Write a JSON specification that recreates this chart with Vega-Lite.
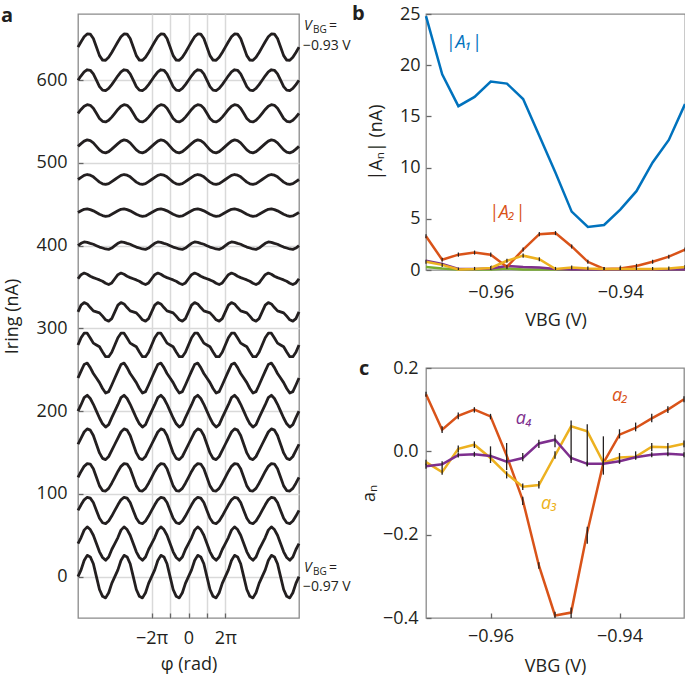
{
"$schema": "https://vega.github.io/schema/vega-lite/v6.json",
"background": "white",
"padding": {"left": 0, "top": 3, "right": 0, "bottom": 0},
"config": {
  "font": "Open Sans",
  "view": {"stroke": "#8a8a8a", "strokeWidth": 1.3},
  "axis": {"labelFont": "Open Sans", "titleFont": "Open Sans", "labelFontSize": 18, "titleFontSize": 18, "titleFontWeight": "normal", "labelColor": "#231f20", "titleColor": "#231f20", "domain": false, "tickSize": -5, "tickColor": "#666666", "tickWidth": 1.3, "grid": false, "labelFlush": false, "labelOverlap": false},
  "title": {"font": "Open Sans", "fontSize": 20, "fontWeight": "bold", "anchor": "start", "frame": "group", "color": "#231f20"}
},
"datasets": {
"traces": [
{"k":0,"x":-36,"y":0},{"k":0,"x":-35,"y":8.1},{"k":0,"x":-34,"y":19.5},{"k":0,"x":-33,"y":25.7},{"k":0,"x":-32,"y":23.8},{"k":0,"x":-31,"y":15.6},{"k":0,"x":-30,"y":0},{"k":0,"x":-29,"y":-15.6},{"k":0,"x":-28,"y":-23.8},{"k":0,"x":-27,"y":-25.7},{"k":0,"x":-26,"y":-19.5},{"k":0,"x":-25,"y":-8.1},
{"k":0,"x":-24,"y":0},{"k":0,"x":-23,"y":8.1},{"k":0,"x":-22,"y":19.5},{"k":0,"x":-21,"y":25.7},{"k":0,"x":-20,"y":23.8},{"k":0,"x":-19,"y":15.6},{"k":0,"x":-18,"y":0},{"k":0,"x":-17,"y":-15.6},{"k":0,"x":-16,"y":-23.8},{"k":0,"x":-15,"y":-25.7},{"k":0,"x":-14,"y":-19.5},{"k":0,"x":-13,"y":-8.1},
{"k":0,"x":-12,"y":0},{"k":0,"x":-11,"y":8.1},{"k":0,"x":-10,"y":19.5},{"k":0,"x":-9,"y":25.7},{"k":0,"x":-8,"y":23.8},{"k":0,"x":-7,"y":15.6},{"k":0,"x":-6,"y":0},{"k":0,"x":-5,"y":-15.6},{"k":0,"x":-4,"y":-23.8},{"k":0,"x":-3,"y":-25.7},{"k":0,"x":-2,"y":-19.5},{"k":0,"x":-1,"y":-8.1},
{"k":0,"x":0,"y":0},{"k":0,"x":1,"y":8.1},{"k":0,"x":2,"y":19.5},{"k":0,"x":3,"y":25.7},{"k":0,"x":4,"y":23.8},{"k":0,"x":5,"y":15.6},{"k":0,"x":6,"y":0},{"k":0,"x":7,"y":-15.6},{"k":0,"x":8,"y":-23.8},{"k":0,"x":9,"y":-25.7},{"k":0,"x":10,"y":-19.5},{"k":0,"x":11,"y":-8.1},
{"k":0,"x":12,"y":0},{"k":0,"x":13,"y":8.1},{"k":0,"x":14,"y":19.5},{"k":0,"x":15,"y":25.7},{"k":0,"x":16,"y":23.8},{"k":0,"x":17,"y":15.6},{"k":0,"x":18,"y":0},{"k":0,"x":19,"y":-15.6},{"k":0,"x":20,"y":-23.8},{"k":0,"x":21,"y":-25.7},{"k":0,"x":22,"y":-19.5},{"k":0,"x":23,"y":-8.1},
{"k":0,"x":24,"y":0},{"k":0,"x":25,"y":8.1},{"k":0,"x":26,"y":19.5},{"k":0,"x":27,"y":25.7},{"k":0,"x":28,"y":23.8},{"k":0,"x":29,"y":15.6},{"k":0,"x":30,"y":0},{"k":0,"x":31,"y":-15.6},{"k":0,"x":32,"y":-23.8},{"k":0,"x":33,"y":-25.7},{"k":0,"x":34,"y":-19.5},{"k":0,"x":35,"y":-8.1},{"k":0,"x":36,"y":0},
{"k":1,"x":-36,"y":40},{"k":1,"x":-35,"y":47.2},{"k":1,"x":-34,"y":56.2},{"k":1,"x":-33,"y":60.1},{"k":1,"x":-32,"y":56.9},{"k":1,"x":-31,"y":50},{"k":1,"x":-30,"y":40},{"k":1,"x":-29,"y":30},{"k":1,"x":-28,"y":23.1},{"k":1,"x":-27,"y":19.9},{"k":1,"x":-26,"y":23.8},{"k":1,"x":-25,"y":32.8},
{"k":1,"x":-24,"y":40},{"k":1,"x":-23,"y":47.2},{"k":1,"x":-22,"y":56.2},{"k":1,"x":-21,"y":60.1},{"k":1,"x":-20,"y":56.9},{"k":1,"x":-19,"y":50},{"k":1,"x":-18,"y":40},{"k":1,"x":-17,"y":30},{"k":1,"x":-16,"y":23.1},{"k":1,"x":-15,"y":19.9},{"k":1,"x":-14,"y":23.8},{"k":1,"x":-13,"y":32.8},
{"k":1,"x":-12,"y":40},{"k":1,"x":-11,"y":47.2},{"k":1,"x":-10,"y":56.2},{"k":1,"x":-9,"y":60.1},{"k":1,"x":-8,"y":56.9},{"k":1,"x":-7,"y":50},{"k":1,"x":-6,"y":40},{"k":1,"x":-5,"y":30},{"k":1,"x":-4,"y":23.1},{"k":1,"x":-3,"y":19.9},{"k":1,"x":-2,"y":23.8},{"k":1,"x":-1,"y":32.8},
{"k":1,"x":0,"y":40},{"k":1,"x":1,"y":47.2},{"k":1,"x":2,"y":56.2},{"k":1,"x":3,"y":60.1},{"k":1,"x":4,"y":56.9},{"k":1,"x":5,"y":50},{"k":1,"x":6,"y":40},{"k":1,"x":7,"y":30},{"k":1,"x":8,"y":23.1},{"k":1,"x":9,"y":19.9},{"k":1,"x":10,"y":23.8},{"k":1,"x":11,"y":32.8},
{"k":1,"x":12,"y":40},{"k":1,"x":13,"y":47.2},{"k":1,"x":14,"y":56.2},{"k":1,"x":15,"y":60.1},{"k":1,"x":16,"y":56.9},{"k":1,"x":17,"y":50},{"k":1,"x":18,"y":40},{"k":1,"x":19,"y":30},{"k":1,"x":20,"y":23.1},{"k":1,"x":21,"y":19.9},{"k":1,"x":22,"y":23.8},{"k":1,"x":23,"y":32.8},
{"k":1,"x":24,"y":40},{"k":1,"x":25,"y":47.2},{"k":1,"x":26,"y":56.2},{"k":1,"x":27,"y":60.1},{"k":1,"x":28,"y":56.9},{"k":1,"x":29,"y":50},{"k":1,"x":30,"y":40},{"k":1,"x":31,"y":30},{"k":1,"x":32,"y":23.1},{"k":1,"x":33,"y":19.9},{"k":1,"x":34,"y":23.8},{"k":1,"x":35,"y":32.8},{"k":1,"x":36,"y":40},
{"k":2,"x":-36,"y":80},{"k":2,"x":-35,"y":86.8},{"k":2,"x":-34,"y":92.8},{"k":2,"x":-33,"y":95.9},{"k":2,"x":-32,"y":94.9},{"k":2,"x":-31,"y":89.5},{"k":2,"x":-30,"y":80},{"k":2,"x":-29,"y":70.5},{"k":2,"x":-28,"y":65.1},{"k":2,"x":-27,"y":64.1},{"k":2,"x":-26,"y":67.2},{"k":2,"x":-25,"y":73.2},
{"k":2,"x":-24,"y":80},{"k":2,"x":-23,"y":86.8},{"k":2,"x":-22,"y":92.8},{"k":2,"x":-21,"y":95.9},{"k":2,"x":-20,"y":94.9},{"k":2,"x":-19,"y":89.5},{"k":2,"x":-18,"y":80},{"k":2,"x":-17,"y":70.5},{"k":2,"x":-16,"y":65.1},{"k":2,"x":-15,"y":64.1},{"k":2,"x":-14,"y":67.2},{"k":2,"x":-13,"y":73.2},
{"k":2,"x":-12,"y":80},{"k":2,"x":-11,"y":86.8},{"k":2,"x":-10,"y":92.8},{"k":2,"x":-9,"y":95.9},{"k":2,"x":-8,"y":94.9},{"k":2,"x":-7,"y":89.5},{"k":2,"x":-6,"y":80},{"k":2,"x":-5,"y":70.5},{"k":2,"x":-4,"y":65.1},{"k":2,"x":-3,"y":64.1},{"k":2,"x":-2,"y":67.2},{"k":2,"x":-1,"y":73.2},
{"k":2,"x":0,"y":80},{"k":2,"x":1,"y":86.8},{"k":2,"x":2,"y":92.8},{"k":2,"x":3,"y":95.9},{"k":2,"x":4,"y":94.9},{"k":2,"x":5,"y":89.5},{"k":2,"x":6,"y":80},{"k":2,"x":7,"y":70.5},{"k":2,"x":8,"y":65.1},{"k":2,"x":9,"y":64.1},{"k":2,"x":10,"y":67.2},{"k":2,"x":11,"y":73.2},
{"k":2,"x":12,"y":80},{"k":2,"x":13,"y":86.8},{"k":2,"x":14,"y":92.8},{"k":2,"x":15,"y":95.9},{"k":2,"x":16,"y":94.9},{"k":2,"x":17,"y":89.5},{"k":2,"x":18,"y":80},{"k":2,"x":19,"y":70.5},{"k":2,"x":20,"y":65.1},{"k":2,"x":21,"y":64.1},{"k":2,"x":22,"y":67.2},{"k":2,"x":23,"y":73.2},
{"k":2,"x":24,"y":80},{"k":2,"x":25,"y":86.8},{"k":2,"x":26,"y":92.8},{"k":2,"x":27,"y":95.9},{"k":2,"x":28,"y":94.9},{"k":2,"x":29,"y":89.5},{"k":2,"x":30,"y":80},{"k":2,"x":31,"y":70.5},{"k":2,"x":32,"y":65.1},{"k":2,"x":33,"y":64.1},{"k":2,"x":34,"y":67.2},{"k":2,"x":35,"y":73.2},{"k":2,"x":36,"y":80},
{"k":3,"x":-36,"y":120},{"k":3,"x":-35,"y":127.1},{"k":3,"x":-34,"y":133.3},{"k":3,"x":-33,"y":136.6},{"k":3,"x":-32,"y":136},{"k":3,"x":-31,"y":130.3},{"k":3,"x":-30,"y":120},{"k":3,"x":-29,"y":109.7},{"k":3,"x":-28,"y":104},{"k":3,"x":-27,"y":103.4},{"k":3,"x":-26,"y":106.7},{"k":3,"x":-25,"y":112.9},
{"k":3,"x":-24,"y":120},{"k":3,"x":-23,"y":127.1},{"k":3,"x":-22,"y":133.3},{"k":3,"x":-21,"y":136.6},{"k":3,"x":-20,"y":136},{"k":3,"x":-19,"y":130.3},{"k":3,"x":-18,"y":120},{"k":3,"x":-17,"y":109.7},{"k":3,"x":-16,"y":104},{"k":3,"x":-15,"y":103.4},{"k":3,"x":-14,"y":106.7},{"k":3,"x":-13,"y":112.9},
{"k":3,"x":-12,"y":120},{"k":3,"x":-11,"y":127.1},{"k":3,"x":-10,"y":133.3},{"k":3,"x":-9,"y":136.6},{"k":3,"x":-8,"y":136},{"k":3,"x":-7,"y":130.3},{"k":3,"x":-6,"y":120},{"k":3,"x":-5,"y":109.7},{"k":3,"x":-4,"y":104},{"k":3,"x":-3,"y":103.4},{"k":3,"x":-2,"y":106.7},{"k":3,"x":-1,"y":112.9},
{"k":3,"x":0,"y":120},{"k":3,"x":1,"y":127.1},{"k":3,"x":2,"y":133.3},{"k":3,"x":3,"y":136.6},{"k":3,"x":4,"y":136},{"k":3,"x":5,"y":130.3},{"k":3,"x":6,"y":120},{"k":3,"x":7,"y":109.7},{"k":3,"x":8,"y":104},{"k":3,"x":9,"y":103.4},{"k":3,"x":10,"y":106.7},{"k":3,"x":11,"y":112.9},
{"k":3,"x":12,"y":120},{"k":3,"x":13,"y":127.1},{"k":3,"x":14,"y":133.3},{"k":3,"x":15,"y":136.6},{"k":3,"x":16,"y":136},{"k":3,"x":17,"y":130.3},{"k":3,"x":18,"y":120},{"k":3,"x":19,"y":109.7},{"k":3,"x":20,"y":104},{"k":3,"x":21,"y":103.4},{"k":3,"x":22,"y":106.7},{"k":3,"x":23,"y":112.9},
{"k":3,"x":24,"y":120},{"k":3,"x":25,"y":127.1},{"k":3,"x":26,"y":133.3},{"k":3,"x":27,"y":136.6},{"k":3,"x":28,"y":136},{"k":3,"x":29,"y":130.3},{"k":3,"x":30,"y":120},{"k":3,"x":31,"y":109.7},{"k":3,"x":32,"y":104},{"k":3,"x":33,"y":103.4},{"k":3,"x":34,"y":106.7},{"k":3,"x":35,"y":112.9},{"k":3,"x":36,"y":120},
{"k":4,"x":-36,"y":160},{"k":4,"x":-35,"y":167.5},{"k":4,"x":-34,"y":174.8},{"k":4,"x":-33,"y":178.6},{"k":4,"x":-32,"y":177.1},{"k":4,"x":-31,"y":170.5},{"k":4,"x":-30,"y":160},{"k":4,"x":-29,"y":149.5},{"k":4,"x":-28,"y":142.9},{"k":4,"x":-27,"y":141.4},{"k":4,"x":-26,"y":145.2},{"k":4,"x":-25,"y":152.5},
{"k":4,"x":-24,"y":160},{"k":4,"x":-23,"y":167.5},{"k":4,"x":-22,"y":174.8},{"k":4,"x":-21,"y":178.6},{"k":4,"x":-20,"y":177.1},{"k":4,"x":-19,"y":170.5},{"k":4,"x":-18,"y":160},{"k":4,"x":-17,"y":149.5},{"k":4,"x":-16,"y":142.9},{"k":4,"x":-15,"y":141.4},{"k":4,"x":-14,"y":145.2},{"k":4,"x":-13,"y":152.5},
{"k":4,"x":-12,"y":160},{"k":4,"x":-11,"y":167.5},{"k":4,"x":-10,"y":174.8},{"k":4,"x":-9,"y":178.6},{"k":4,"x":-8,"y":177.1},{"k":4,"x":-7,"y":170.5},{"k":4,"x":-6,"y":160},{"k":4,"x":-5,"y":149.5},{"k":4,"x":-4,"y":142.9},{"k":4,"x":-3,"y":141.4},{"k":4,"x":-2,"y":145.2},{"k":4,"x":-1,"y":152.5},
{"k":4,"x":0,"y":160},{"k":4,"x":1,"y":167.5},{"k":4,"x":2,"y":174.8},{"k":4,"x":3,"y":178.6},{"k":4,"x":4,"y":177.1},{"k":4,"x":5,"y":170.5},{"k":4,"x":6,"y":160},{"k":4,"x":7,"y":149.5},{"k":4,"x":8,"y":142.9},{"k":4,"x":9,"y":141.4},{"k":4,"x":10,"y":145.2},{"k":4,"x":11,"y":152.5},
{"k":4,"x":12,"y":160},{"k":4,"x":13,"y":167.5},{"k":4,"x":14,"y":174.8},{"k":4,"x":15,"y":178.6},{"k":4,"x":16,"y":177.1},{"k":4,"x":17,"y":170.5},{"k":4,"x":18,"y":160},{"k":4,"x":19,"y":149.5},{"k":4,"x":20,"y":142.9},{"k":4,"x":21,"y":141.4},{"k":4,"x":22,"y":145.2},{"k":4,"x":23,"y":152.5},
{"k":4,"x":24,"y":160},{"k":4,"x":25,"y":167.5},{"k":4,"x":26,"y":174.8},{"k":4,"x":27,"y":178.6},{"k":4,"x":28,"y":177.1},{"k":4,"x":29,"y":170.5},{"k":4,"x":30,"y":160},{"k":4,"x":31,"y":149.5},{"k":4,"x":32,"y":142.9},{"k":4,"x":33,"y":141.4},{"k":4,"x":34,"y":145.2},{"k":4,"x":35,"y":152.5},{"k":4,"x":36,"y":160},
{"k":5,"x":-36,"y":200},{"k":5,"x":-35,"y":207.8},{"k":5,"x":-34,"y":216.3},{"k":5,"x":-33,"y":219.2},{"k":5,"x":-32,"y":215.3},{"k":5,"x":-31,"y":208.3},{"k":5,"x":-30,"y":200},{"k":5,"x":-29,"y":191.7},{"k":5,"x":-28,"y":184.7},{"k":5,"x":-27,"y":180.8},{"k":5,"x":-26,"y":183.7},{"k":5,"x":-25,"y":192.2},
{"k":5,"x":-24,"y":200},{"k":5,"x":-23,"y":207.8},{"k":5,"x":-22,"y":216.3},{"k":5,"x":-21,"y":219.2},{"k":5,"x":-20,"y":215.3},{"k":5,"x":-19,"y":208.3},{"k":5,"x":-18,"y":200},{"k":5,"x":-17,"y":191.7},{"k":5,"x":-16,"y":184.7},{"k":5,"x":-15,"y":180.8},{"k":5,"x":-14,"y":183.7},{"k":5,"x":-13,"y":192.2},
{"k":5,"x":-12,"y":200},{"k":5,"x":-11,"y":207.8},{"k":5,"x":-10,"y":216.3},{"k":5,"x":-9,"y":219.2},{"k":5,"x":-8,"y":215.3},{"k":5,"x":-7,"y":208.3},{"k":5,"x":-6,"y":200},{"k":5,"x":-5,"y":191.7},{"k":5,"x":-4,"y":184.7},{"k":5,"x":-3,"y":180.8},{"k":5,"x":-2,"y":183.7},{"k":5,"x":-1,"y":192.2},
{"k":5,"x":0,"y":200},{"k":5,"x":1,"y":207.8},{"k":5,"x":2,"y":216.3},{"k":5,"x":3,"y":219.2},{"k":5,"x":4,"y":215.3},{"k":5,"x":5,"y":208.3},{"k":5,"x":6,"y":200},{"k":5,"x":7,"y":191.7},{"k":5,"x":8,"y":184.7},{"k":5,"x":9,"y":180.8},{"k":5,"x":10,"y":183.7},{"k":5,"x":11,"y":192.2},
{"k":5,"x":12,"y":200},{"k":5,"x":13,"y":207.8},{"k":5,"x":14,"y":216.3},{"k":5,"x":15,"y":219.2},{"k":5,"x":16,"y":215.3},{"k":5,"x":17,"y":208.3},{"k":5,"x":18,"y":200},{"k":5,"x":19,"y":191.7},{"k":5,"x":20,"y":184.7},{"k":5,"x":21,"y":180.8},{"k":5,"x":22,"y":183.7},{"k":5,"x":23,"y":192.2},
{"k":5,"x":24,"y":200},{"k":5,"x":25,"y":207.8},{"k":5,"x":26,"y":216.3},{"k":5,"x":27,"y":219.2},{"k":5,"x":28,"y":215.3},{"k":5,"x":29,"y":208.3},{"k":5,"x":30,"y":200},{"k":5,"x":31,"y":191.7},{"k":5,"x":32,"y":184.7},{"k":5,"x":33,"y":180.8},{"k":5,"x":34,"y":183.7},{"k":5,"x":35,"y":192.2},{"k":5,"x":36,"y":200},
{"k":6,"x":-36,"y":240},{"k":6,"x":-35,"y":248.4},{"k":6,"x":-34,"y":256.4},{"k":6,"x":-33,"y":258.1},{"k":6,"x":-32,"y":252.6},{"k":6,"x":-31,"y":245.5},{"k":6,"x":-30,"y":240},{"k":6,"x":-29,"y":234.5},{"k":6,"x":-28,"y":227.4},{"k":6,"x":-27,"y":221.9},{"k":6,"x":-26,"y":223.6},{"k":6,"x":-25,"y":231.6},
{"k":6,"x":-24,"y":240},{"k":6,"x":-23,"y":248.4},{"k":6,"x":-22,"y":256.4},{"k":6,"x":-21,"y":258.1},{"k":6,"x":-20,"y":252.6},{"k":6,"x":-19,"y":245.5},{"k":6,"x":-18,"y":240},{"k":6,"x":-17,"y":234.5},{"k":6,"x":-16,"y":227.4},{"k":6,"x":-15,"y":221.9},{"k":6,"x":-14,"y":223.6},{"k":6,"x":-13,"y":231.6},
{"k":6,"x":-12,"y":240},{"k":6,"x":-11,"y":248.4},{"k":6,"x":-10,"y":256.4},{"k":6,"x":-9,"y":258.1},{"k":6,"x":-8,"y":252.6},{"k":6,"x":-7,"y":245.5},{"k":6,"x":-6,"y":240},{"k":6,"x":-5,"y":234.5},{"k":6,"x":-4,"y":227.4},{"k":6,"x":-3,"y":221.9},{"k":6,"x":-2,"y":223.6},{"k":6,"x":-1,"y":231.6},
{"k":6,"x":0,"y":240},{"k":6,"x":1,"y":248.4},{"k":6,"x":2,"y":256.4},{"k":6,"x":3,"y":258.1},{"k":6,"x":4,"y":252.6},{"k":6,"x":5,"y":245.5},{"k":6,"x":6,"y":240},{"k":6,"x":7,"y":234.5},{"k":6,"x":8,"y":227.4},{"k":6,"x":9,"y":221.9},{"k":6,"x":10,"y":223.6},{"k":6,"x":11,"y":231.6},
{"k":6,"x":12,"y":240},{"k":6,"x":13,"y":248.4},{"k":6,"x":14,"y":256.4},{"k":6,"x":15,"y":258.1},{"k":6,"x":16,"y":252.6},{"k":6,"x":17,"y":245.5},{"k":6,"x":18,"y":240},{"k":6,"x":19,"y":234.5},{"k":6,"x":20,"y":227.4},{"k":6,"x":21,"y":221.9},{"k":6,"x":22,"y":223.6},{"k":6,"x":23,"y":231.6},
{"k":6,"x":24,"y":240},{"k":6,"x":25,"y":248.4},{"k":6,"x":26,"y":256.4},{"k":6,"x":27,"y":258.1},{"k":6,"x":28,"y":252.6},{"k":6,"x":29,"y":245.5},{"k":6,"x":30,"y":240},{"k":6,"x":31,"y":234.5},{"k":6,"x":32,"y":227.4},{"k":6,"x":33,"y":221.9},{"k":6,"x":34,"y":223.6},{"k":6,"x":35,"y":231.6},{"k":6,"x":36,"y":240},
{"k":7,"x":-36,"y":280},{"k":7,"x":-35,"y":288.8},{"k":7,"x":-34,"y":294.2},{"k":7,"x":-33,"y":294.2},{"k":7,"x":-32,"y":288.4},{"k":7,"x":-31,"y":282.2},{"k":7,"x":-30,"y":280},{"k":7,"x":-29,"y":277.8},{"k":7,"x":-28,"y":271.6},{"k":7,"x":-27,"y":265.8},{"k":7,"x":-26,"y":265.8},{"k":7,"x":-25,"y":271.2},
{"k":7,"x":-24,"y":280},{"k":7,"x":-23,"y":288.8},{"k":7,"x":-22,"y":294.2},{"k":7,"x":-21,"y":294.2},{"k":7,"x":-20,"y":288.4},{"k":7,"x":-19,"y":282.2},{"k":7,"x":-18,"y":280},{"k":7,"x":-17,"y":277.8},{"k":7,"x":-16,"y":271.6},{"k":7,"x":-15,"y":265.8},{"k":7,"x":-14,"y":265.8},{"k":7,"x":-13,"y":271.2},
{"k":7,"x":-12,"y":280},{"k":7,"x":-11,"y":288.8},{"k":7,"x":-10,"y":294.2},{"k":7,"x":-9,"y":294.2},{"k":7,"x":-8,"y":288.4},{"k":7,"x":-7,"y":282.2},{"k":7,"x":-6,"y":280},{"k":7,"x":-5,"y":277.8},{"k":7,"x":-4,"y":271.6},{"k":7,"x":-3,"y":265.8},{"k":7,"x":-2,"y":265.8},{"k":7,"x":-1,"y":271.2},
{"k":7,"x":0,"y":280},{"k":7,"x":1,"y":288.8},{"k":7,"x":2,"y":294.2},{"k":7,"x":3,"y":294.2},{"k":7,"x":4,"y":288.4},{"k":7,"x":5,"y":282.2},{"k":7,"x":6,"y":280},{"k":7,"x":7,"y":277.8},{"k":7,"x":8,"y":271.6},{"k":7,"x":9,"y":265.8},{"k":7,"x":10,"y":265.8},{"k":7,"x":11,"y":271.2},
{"k":7,"x":12,"y":280},{"k":7,"x":13,"y":288.8},{"k":7,"x":14,"y":294.2},{"k":7,"x":15,"y":294.2},{"k":7,"x":16,"y":288.4},{"k":7,"x":17,"y":282.2},{"k":7,"x":18,"y":280},{"k":7,"x":19,"y":277.8},{"k":7,"x":20,"y":271.6},{"k":7,"x":21,"y":265.8},{"k":7,"x":22,"y":265.8},{"k":7,"x":23,"y":271.2},
{"k":7,"x":24,"y":280},{"k":7,"x":25,"y":288.8},{"k":7,"x":26,"y":294.2},{"k":7,"x":27,"y":294.2},{"k":7,"x":28,"y":288.4},{"k":7,"x":29,"y":282.2},{"k":7,"x":30,"y":280},{"k":7,"x":31,"y":277.8},{"k":7,"x":32,"y":271.6},{"k":7,"x":33,"y":265.8},{"k":7,"x":34,"y":265.8},{"k":7,"x":35,"y":271.2},{"k":7,"x":36,"y":280},
{"k":8,"x":-36,"y":320},{"k":8,"x":-35,"y":328.1},{"k":8,"x":-34,"y":331.2},{"k":8,"x":-33,"y":329.6},{"k":8,"x":-32,"y":325.2},{"k":8,"x":-31,"y":321.2},{"k":8,"x":-30,"y":320},{"k":8,"x":-29,"y":318.8},{"k":8,"x":-28,"y":314.8},{"k":8,"x":-27,"y":310.4},{"k":8,"x":-26,"y":308.8},{"k":8,"x":-25,"y":311.9},
{"k":8,"x":-24,"y":320},{"k":8,"x":-23,"y":328.1},{"k":8,"x":-22,"y":331.2},{"k":8,"x":-21,"y":329.6},{"k":8,"x":-20,"y":325.2},{"k":8,"x":-19,"y":321.2},{"k":8,"x":-18,"y":320},{"k":8,"x":-17,"y":318.8},{"k":8,"x":-16,"y":314.8},{"k":8,"x":-15,"y":310.4},{"k":8,"x":-14,"y":308.8},{"k":8,"x":-13,"y":311.9},
{"k":8,"x":-12,"y":320},{"k":8,"x":-11,"y":328.1},{"k":8,"x":-10,"y":331.2},{"k":8,"x":-9,"y":329.6},{"k":8,"x":-8,"y":325.2},{"k":8,"x":-7,"y":321.2},{"k":8,"x":-6,"y":320},{"k":8,"x":-5,"y":318.8},{"k":8,"x":-4,"y":314.8},{"k":8,"x":-3,"y":310.4},{"k":8,"x":-2,"y":308.8},{"k":8,"x":-1,"y":311.9},
{"k":8,"x":0,"y":320},{"k":8,"x":1,"y":328.1},{"k":8,"x":2,"y":331.2},{"k":8,"x":3,"y":329.6},{"k":8,"x":4,"y":325.2},{"k":8,"x":5,"y":321.2},{"k":8,"x":6,"y":320},{"k":8,"x":7,"y":318.8},{"k":8,"x":8,"y":314.8},{"k":8,"x":9,"y":310.4},{"k":8,"x":10,"y":308.8},{"k":8,"x":11,"y":311.9},
{"k":8,"x":12,"y":320},{"k":8,"x":13,"y":328.1},{"k":8,"x":14,"y":331.2},{"k":8,"x":15,"y":329.6},{"k":8,"x":16,"y":325.2},{"k":8,"x":17,"y":321.2},{"k":8,"x":18,"y":320},{"k":8,"x":19,"y":318.8},{"k":8,"x":20,"y":314.8},{"k":8,"x":21,"y":310.4},{"k":8,"x":22,"y":308.8},{"k":8,"x":23,"y":311.9},
{"k":8,"x":24,"y":320},{"k":8,"x":25,"y":328.1},{"k":8,"x":26,"y":331.2},{"k":8,"x":27,"y":329.6},{"k":8,"x":28,"y":325.2},{"k":8,"x":29,"y":321.2},{"k":8,"x":30,"y":320},{"k":8,"x":31,"y":318.8},{"k":8,"x":32,"y":314.8},{"k":8,"x":33,"y":310.4},{"k":8,"x":34,"y":308.8},{"k":8,"x":35,"y":311.9},{"k":8,"x":36,"y":320},
{"k":9,"x":-36,"y":360},{"k":9,"x":-35,"y":365},{"k":9,"x":-34,"y":366.9},{"k":9,"x":-33,"y":365.4},{"k":9,"x":-32,"y":363},{"k":9,"x":-31,"y":361.4},{"k":9,"x":-30,"y":360},{"k":9,"x":-29,"y":358.6},{"k":9,"x":-28,"y":357},{"k":9,"x":-27,"y":354.6},{"k":9,"x":-26,"y":353.1},{"k":9,"x":-25,"y":355},
{"k":9,"x":-24,"y":360},{"k":9,"x":-23,"y":365},{"k":9,"x":-22,"y":366.9},{"k":9,"x":-21,"y":365.4},{"k":9,"x":-20,"y":363},{"k":9,"x":-19,"y":361.4},{"k":9,"x":-18,"y":360},{"k":9,"x":-17,"y":358.6},{"k":9,"x":-16,"y":357},{"k":9,"x":-15,"y":354.6},{"k":9,"x":-14,"y":353.1},{"k":9,"x":-13,"y":355},
{"k":9,"x":-12,"y":360},{"k":9,"x":-11,"y":365},{"k":9,"x":-10,"y":366.9},{"k":9,"x":-9,"y":365.4},{"k":9,"x":-8,"y":363},{"k":9,"x":-7,"y":361.4},{"k":9,"x":-6,"y":360},{"k":9,"x":-5,"y":358.6},{"k":9,"x":-4,"y":357},{"k":9,"x":-3,"y":354.6},{"k":9,"x":-2,"y":353.1},{"k":9,"x":-1,"y":355},
{"k":9,"x":0,"y":360},{"k":9,"x":1,"y":365},{"k":9,"x":2,"y":366.9},{"k":9,"x":3,"y":365.4},{"k":9,"x":4,"y":363},{"k":9,"x":5,"y":361.4},{"k":9,"x":6,"y":360},{"k":9,"x":7,"y":358.6},{"k":9,"x":8,"y":357},{"k":9,"x":9,"y":354.6},{"k":9,"x":10,"y":353.1},{"k":9,"x":11,"y":355},
{"k":9,"x":12,"y":360},{"k":9,"x":13,"y":365},{"k":9,"x":14,"y":366.9},{"k":9,"x":15,"y":365.4},{"k":9,"x":16,"y":363},{"k":9,"x":17,"y":361.4},{"k":9,"x":18,"y":360},{"k":9,"x":19,"y":358.6},{"k":9,"x":20,"y":357},{"k":9,"x":21,"y":354.6},{"k":9,"x":22,"y":353.1},{"k":9,"x":23,"y":355},
{"k":9,"x":24,"y":360},{"k":9,"x":25,"y":365},{"k":9,"x":26,"y":366.9},{"k":9,"x":27,"y":365.4},{"k":9,"x":28,"y":363},{"k":9,"x":29,"y":361.4},{"k":9,"x":30,"y":360},{"k":9,"x":31,"y":358.6},{"k":9,"x":32,"y":357},{"k":9,"x":33,"y":354.6},{"k":9,"x":34,"y":353.1},{"k":9,"x":35,"y":355},{"k":9,"x":36,"y":360},
{"k":10,"x":-36,"y":400},{"k":10,"x":-35,"y":402.9},{"k":10,"x":-34,"y":404.5},{"k":10,"x":-33,"y":404},{"k":10,"x":-32,"y":402.8},{"k":10,"x":-31,"y":401.7},{"k":10,"x":-30,"y":400},{"k":10,"x":-29,"y":398.3},{"k":10,"x":-28,"y":397.2},{"k":10,"x":-27,"y":396},{"k":10,"x":-26,"y":395.5},{"k":10,"x":-25,"y":397.1},
{"k":10,"x":-24,"y":400},{"k":10,"x":-23,"y":402.9},{"k":10,"x":-22,"y":404.5},{"k":10,"x":-21,"y":404},{"k":10,"x":-20,"y":402.8},{"k":10,"x":-19,"y":401.7},{"k":10,"x":-18,"y":400},{"k":10,"x":-17,"y":398.3},{"k":10,"x":-16,"y":397.2},{"k":10,"x":-15,"y":396},{"k":10,"x":-14,"y":395.5},{"k":10,"x":-13,"y":397.1},
{"k":10,"x":-12,"y":400},{"k":10,"x":-11,"y":402.9},{"k":10,"x":-10,"y":404.5},{"k":10,"x":-9,"y":404},{"k":10,"x":-8,"y":402.8},{"k":10,"x":-7,"y":401.7},{"k":10,"x":-6,"y":400},{"k":10,"x":-5,"y":398.3},{"k":10,"x":-4,"y":397.2},{"k":10,"x":-3,"y":396},{"k":10,"x":-2,"y":395.5},{"k":10,"x":-1,"y":397.1},
{"k":10,"x":0,"y":400},{"k":10,"x":1,"y":402.9},{"k":10,"x":2,"y":404.5},{"k":10,"x":3,"y":404},{"k":10,"x":4,"y":402.8},{"k":10,"x":5,"y":401.7},{"k":10,"x":6,"y":400},{"k":10,"x":7,"y":398.3},{"k":10,"x":8,"y":397.2},{"k":10,"x":9,"y":396},{"k":10,"x":10,"y":395.5},{"k":10,"x":11,"y":397.1},
{"k":10,"x":12,"y":400},{"k":10,"x":13,"y":402.9},{"k":10,"x":14,"y":404.5},{"k":10,"x":15,"y":404},{"k":10,"x":16,"y":402.8},{"k":10,"x":17,"y":401.7},{"k":10,"x":18,"y":400},{"k":10,"x":19,"y":398.3},{"k":10,"x":20,"y":397.2},{"k":10,"x":21,"y":396},{"k":10,"x":22,"y":395.5},{"k":10,"x":23,"y":397.1},
{"k":10,"x":24,"y":400},{"k":10,"x":25,"y":402.9},{"k":10,"x":26,"y":404.5},{"k":10,"x":27,"y":404},{"k":10,"x":28,"y":402.8},{"k":10,"x":29,"y":401.7},{"k":10,"x":30,"y":400},{"k":10,"x":31,"y":398.3},{"k":10,"x":32,"y":397.2},{"k":10,"x":33,"y":396},{"k":10,"x":34,"y":395.5},{"k":10,"x":35,"y":397.1},{"k":10,"x":36,"y":400},
{"k":11,"x":-36,"y":440},{"k":11,"x":-35,"y":442.1},{"k":11,"x":-34,"y":444},{"k":11,"x":-33,"y":444.5},{"k":11,"x":-32,"y":443.6},{"k":11,"x":-31,"y":442.1},{"k":11,"x":-30,"y":440},{"k":11,"x":-29,"y":437.9},{"k":11,"x":-28,"y":436.4},{"k":11,"x":-27,"y":435.5},{"k":11,"x":-26,"y":436},{"k":11,"x":-25,"y":437.9},
{"k":11,"x":-24,"y":440},{"k":11,"x":-23,"y":442.1},{"k":11,"x":-22,"y":444},{"k":11,"x":-21,"y":444.5},{"k":11,"x":-20,"y":443.6},{"k":11,"x":-19,"y":442.1},{"k":11,"x":-18,"y":440},{"k":11,"x":-17,"y":437.9},{"k":11,"x":-16,"y":436.4},{"k":11,"x":-15,"y":435.5},{"k":11,"x":-14,"y":436},{"k":11,"x":-13,"y":437.9},
{"k":11,"x":-12,"y":440},{"k":11,"x":-11,"y":442.1},{"k":11,"x":-10,"y":444},{"k":11,"x":-9,"y":444.5},{"k":11,"x":-8,"y":443.6},{"k":11,"x":-7,"y":442.1},{"k":11,"x":-6,"y":440},{"k":11,"x":-5,"y":437.9},{"k":11,"x":-4,"y":436.4},{"k":11,"x":-3,"y":435.5},{"k":11,"x":-2,"y":436},{"k":11,"x":-1,"y":437.9},
{"k":11,"x":0,"y":440},{"k":11,"x":1,"y":442.1},{"k":11,"x":2,"y":444},{"k":11,"x":3,"y":444.5},{"k":11,"x":4,"y":443.6},{"k":11,"x":5,"y":442.1},{"k":11,"x":6,"y":440},{"k":11,"x":7,"y":437.9},{"k":11,"x":8,"y":436.4},{"k":11,"x":9,"y":435.5},{"k":11,"x":10,"y":436},{"k":11,"x":11,"y":437.9},
{"k":11,"x":12,"y":440},{"k":11,"x":13,"y":442.1},{"k":11,"x":14,"y":444},{"k":11,"x":15,"y":444.5},{"k":11,"x":16,"y":443.6},{"k":11,"x":17,"y":442.1},{"k":11,"x":18,"y":440},{"k":11,"x":19,"y":437.9},{"k":11,"x":20,"y":436.4},{"k":11,"x":21,"y":435.5},{"k":11,"x":22,"y":436},{"k":11,"x":23,"y":437.9},
{"k":11,"x":24,"y":440},{"k":11,"x":25,"y":442.1},{"k":11,"x":26,"y":444},{"k":11,"x":27,"y":444.5},{"k":11,"x":28,"y":443.6},{"k":11,"x":29,"y":442.1},{"k":11,"x":30,"y":440},{"k":11,"x":31,"y":437.9},{"k":11,"x":32,"y":436.4},{"k":11,"x":33,"y":435.5},{"k":11,"x":34,"y":436},{"k":11,"x":35,"y":437.9},{"k":11,"x":36,"y":440},
{"k":12,"x":-36,"y":480},{"k":12,"x":-35,"y":482.5},{"k":12,"x":-34,"y":485},{"k":12,"x":-33,"y":486},{"k":12,"x":-32,"y":485.2},{"k":12,"x":-31,"y":483.2},{"k":12,"x":-30,"y":480},{"k":12,"x":-29,"y":476.8},{"k":12,"x":-28,"y":474.8},{"k":12,"x":-27,"y":474},{"k":12,"x":-26,"y":475},{"k":12,"x":-25,"y":477.5},
{"k":12,"x":-24,"y":480},{"k":12,"x":-23,"y":482.5},{"k":12,"x":-22,"y":485},{"k":12,"x":-21,"y":486},{"k":12,"x":-20,"y":485.2},{"k":12,"x":-19,"y":483.2},{"k":12,"x":-18,"y":480},{"k":12,"x":-17,"y":476.8},{"k":12,"x":-16,"y":474.8},{"k":12,"x":-15,"y":474},{"k":12,"x":-14,"y":475},{"k":12,"x":-13,"y":477.5},
{"k":12,"x":-12,"y":480},{"k":12,"x":-11,"y":482.5},{"k":12,"x":-10,"y":485},{"k":12,"x":-9,"y":486},{"k":12,"x":-8,"y":485.2},{"k":12,"x":-7,"y":483.2},{"k":12,"x":-6,"y":480},{"k":12,"x":-5,"y":476.8},{"k":12,"x":-4,"y":474.8},{"k":12,"x":-3,"y":474},{"k":12,"x":-2,"y":475},{"k":12,"x":-1,"y":477.5},
{"k":12,"x":0,"y":480},{"k":12,"x":1,"y":482.5},{"k":12,"x":2,"y":485},{"k":12,"x":3,"y":486},{"k":12,"x":4,"y":485.2},{"k":12,"x":5,"y":483.2},{"k":12,"x":6,"y":480},{"k":12,"x":7,"y":476.8},{"k":12,"x":8,"y":474.8},{"k":12,"x":9,"y":474},{"k":12,"x":10,"y":475},{"k":12,"x":11,"y":477.5},
{"k":12,"x":12,"y":480},{"k":12,"x":13,"y":482.5},{"k":12,"x":14,"y":485},{"k":12,"x":15,"y":486},{"k":12,"x":16,"y":485.2},{"k":12,"x":17,"y":483.2},{"k":12,"x":18,"y":480},{"k":12,"x":19,"y":476.8},{"k":12,"x":20,"y":474.8},{"k":12,"x":21,"y":474},{"k":12,"x":22,"y":475},{"k":12,"x":23,"y":477.5},
{"k":12,"x":24,"y":480},{"k":12,"x":25,"y":482.5},{"k":12,"x":26,"y":485},{"k":12,"x":27,"y":486},{"k":12,"x":28,"y":485.2},{"k":12,"x":29,"y":483.2},{"k":12,"x":30,"y":480},{"k":12,"x":31,"y":476.8},{"k":12,"x":32,"y":474.8},{"k":12,"x":33,"y":474},{"k":12,"x":34,"y":475},{"k":12,"x":35,"y":477.5},{"k":12,"x":36,"y":480},
{"k":13,"x":-36,"y":520},{"k":13,"x":-35,"y":523.3},{"k":13,"x":-34,"y":526.4},{"k":13,"x":-33,"y":527.8},{"k":13,"x":-32,"y":526.9},{"k":13,"x":-31,"y":524.2},{"k":13,"x":-30,"y":520},{"k":13,"x":-29,"y":515.8},{"k":13,"x":-28,"y":513.1},{"k":13,"x":-27,"y":512.2},{"k":13,"x":-26,"y":513.6},{"k":13,"x":-25,"y":516.7},
{"k":13,"x":-24,"y":520},{"k":13,"x":-23,"y":523.3},{"k":13,"x":-22,"y":526.4},{"k":13,"x":-21,"y":527.8},{"k":13,"x":-20,"y":526.9},{"k":13,"x":-19,"y":524.2},{"k":13,"x":-18,"y":520},{"k":13,"x":-17,"y":515.8},{"k":13,"x":-16,"y":513.1},{"k":13,"x":-15,"y":512.2},{"k":13,"x":-14,"y":513.6},{"k":13,"x":-13,"y":516.7},
{"k":13,"x":-12,"y":520},{"k":13,"x":-11,"y":523.3},{"k":13,"x":-10,"y":526.4},{"k":13,"x":-9,"y":527.8},{"k":13,"x":-8,"y":526.9},{"k":13,"x":-7,"y":524.2},{"k":13,"x":-6,"y":520},{"k":13,"x":-5,"y":515.8},{"k":13,"x":-4,"y":513.1},{"k":13,"x":-3,"y":512.2},{"k":13,"x":-2,"y":513.6},{"k":13,"x":-1,"y":516.7},
{"k":13,"x":0,"y":520},{"k":13,"x":1,"y":523.3},{"k":13,"x":2,"y":526.4},{"k":13,"x":3,"y":527.8},{"k":13,"x":4,"y":526.9},{"k":13,"x":5,"y":524.2},{"k":13,"x":6,"y":520},{"k":13,"x":7,"y":515.8},{"k":13,"x":8,"y":513.1},{"k":13,"x":9,"y":512.2},{"k":13,"x":10,"y":513.6},{"k":13,"x":11,"y":516.7},
{"k":13,"x":12,"y":520},{"k":13,"x":13,"y":523.3},{"k":13,"x":14,"y":526.4},{"k":13,"x":15,"y":527.8},{"k":13,"x":16,"y":526.9},{"k":13,"x":17,"y":524.2},{"k":13,"x":18,"y":520},{"k":13,"x":19,"y":515.8},{"k":13,"x":20,"y":513.1},{"k":13,"x":21,"y":512.2},{"k":13,"x":22,"y":513.6},{"k":13,"x":23,"y":516.7},
{"k":13,"x":24,"y":520},{"k":13,"x":25,"y":523.3},{"k":13,"x":26,"y":526.4},{"k":13,"x":27,"y":527.8},{"k":13,"x":28,"y":526.9},{"k":13,"x":29,"y":524.2},{"k":13,"x":30,"y":520},{"k":13,"x":31,"y":515.8},{"k":13,"x":32,"y":513.1},{"k":13,"x":33,"y":512.2},{"k":13,"x":34,"y":513.6},{"k":13,"x":35,"y":516.7},{"k":13,"x":36,"y":520},
{"k":14,"x":-36,"y":560},{"k":14,"x":-35,"y":564.6},{"k":14,"x":-34,"y":568.5},{"k":14,"x":-33,"y":570.4},{"k":14,"x":-32,"y":569.7},{"k":14,"x":-31,"y":566.2},{"k":14,"x":-30,"y":560},{"k":14,"x":-29,"y":553.8},{"k":14,"x":-28,"y":550.3},{"k":14,"x":-27,"y":549.6},{"k":14,"x":-26,"y":551.5},{"k":14,"x":-25,"y":555.4},
{"k":14,"x":-24,"y":560},{"k":14,"x":-23,"y":564.6},{"k":14,"x":-22,"y":568.5},{"k":14,"x":-21,"y":570.4},{"k":14,"x":-20,"y":569.7},{"k":14,"x":-19,"y":566.2},{"k":14,"x":-18,"y":560},{"k":14,"x":-17,"y":553.8},{"k":14,"x":-16,"y":550.3},{"k":14,"x":-15,"y":549.6},{"k":14,"x":-14,"y":551.5},{"k":14,"x":-13,"y":555.4},
{"k":14,"x":-12,"y":560},{"k":14,"x":-11,"y":564.6},{"k":14,"x":-10,"y":568.5},{"k":14,"x":-9,"y":570.4},{"k":14,"x":-8,"y":569.7},{"k":14,"x":-7,"y":566.2},{"k":14,"x":-6,"y":560},{"k":14,"x":-5,"y":553.8},{"k":14,"x":-4,"y":550.3},{"k":14,"x":-3,"y":549.6},{"k":14,"x":-2,"y":551.5},{"k":14,"x":-1,"y":555.4},
{"k":14,"x":0,"y":560},{"k":14,"x":1,"y":564.6},{"k":14,"x":2,"y":568.5},{"k":14,"x":3,"y":570.4},{"k":14,"x":4,"y":569.7},{"k":14,"x":5,"y":566.2},{"k":14,"x":6,"y":560},{"k":14,"x":7,"y":553.8},{"k":14,"x":8,"y":550.3},{"k":14,"x":9,"y":549.6},{"k":14,"x":10,"y":551.5},{"k":14,"x":11,"y":555.4},
{"k":14,"x":12,"y":560},{"k":14,"x":13,"y":564.6},{"k":14,"x":14,"y":568.5},{"k":14,"x":15,"y":570.4},{"k":14,"x":16,"y":569.7},{"k":14,"x":17,"y":566.2},{"k":14,"x":18,"y":560},{"k":14,"x":19,"y":553.8},{"k":14,"x":20,"y":550.3},{"k":14,"x":21,"y":549.6},{"k":14,"x":22,"y":551.5},{"k":14,"x":23,"y":555.4},
{"k":14,"x":24,"y":560},{"k":14,"x":25,"y":564.6},{"k":14,"x":26,"y":568.5},{"k":14,"x":27,"y":570.4},{"k":14,"x":28,"y":569.7},{"k":14,"x":29,"y":566.2},{"k":14,"x":30,"y":560},{"k":14,"x":31,"y":553.8},{"k":14,"x":32,"y":550.3},{"k":14,"x":33,"y":549.6},{"k":14,"x":34,"y":551.5},{"k":14,"x":35,"y":555.4},{"k":14,"x":36,"y":560},
{"k":15,"x":-36,"y":600},{"k":15,"x":-35,"y":605.3},{"k":15,"x":-34,"y":610},{"k":15,"x":-33,"y":612.6},{"k":15,"x":-32,"y":612},{"k":15,"x":-31,"y":607.7},{"k":15,"x":-30,"y":600},{"k":15,"x":-29,"y":592.3},{"k":15,"x":-28,"y":588},{"k":15,"x":-27,"y":587.4},{"k":15,"x":-26,"y":590},{"k":15,"x":-25,"y":594.7},
{"k":15,"x":-24,"y":600},{"k":15,"x":-23,"y":605.3},{"k":15,"x":-22,"y":610},{"k":15,"x":-21,"y":612.6},{"k":15,"x":-20,"y":612},{"k":15,"x":-19,"y":607.7},{"k":15,"x":-18,"y":600},{"k":15,"x":-17,"y":592.3},{"k":15,"x":-16,"y":588},{"k":15,"x":-15,"y":587.4},{"k":15,"x":-14,"y":590},{"k":15,"x":-13,"y":594.7},
{"k":15,"x":-12,"y":600},{"k":15,"x":-11,"y":605.3},{"k":15,"x":-10,"y":610},{"k":15,"x":-9,"y":612.6},{"k":15,"x":-8,"y":612},{"k":15,"x":-7,"y":607.7},{"k":15,"x":-6,"y":600},{"k":15,"x":-5,"y":592.3},{"k":15,"x":-4,"y":588},{"k":15,"x":-3,"y":587.4},{"k":15,"x":-2,"y":590},{"k":15,"x":-1,"y":594.7},
{"k":15,"x":0,"y":600},{"k":15,"x":1,"y":605.3},{"k":15,"x":2,"y":610},{"k":15,"x":3,"y":612.6},{"k":15,"x":4,"y":612},{"k":15,"x":5,"y":607.7},{"k":15,"x":6,"y":600},{"k":15,"x":7,"y":592.3},{"k":15,"x":8,"y":588},{"k":15,"x":9,"y":587.4},{"k":15,"x":10,"y":590},{"k":15,"x":11,"y":594.7},
{"k":15,"x":12,"y":600},{"k":15,"x":13,"y":605.3},{"k":15,"x":14,"y":610},{"k":15,"x":15,"y":612.6},{"k":15,"x":16,"y":612},{"k":15,"x":17,"y":607.7},{"k":15,"x":18,"y":600},{"k":15,"x":19,"y":592.3},{"k":15,"x":20,"y":588},{"k":15,"x":21,"y":587.4},{"k":15,"x":22,"y":590},{"k":15,"x":23,"y":594.7},
{"k":15,"x":24,"y":600},{"k":15,"x":25,"y":605.3},{"k":15,"x":26,"y":610},{"k":15,"x":27,"y":612.6},{"k":15,"x":28,"y":612},{"k":15,"x":29,"y":607.7},{"k":15,"x":30,"y":600},{"k":15,"x":31,"y":592.3},{"k":15,"x":32,"y":588},{"k":15,"x":33,"y":587.4},{"k":15,"x":34,"y":590},{"k":15,"x":35,"y":594.7},{"k":15,"x":36,"y":600},
{"k":16,"x":-36,"y":640},{"k":16,"x":-35,"y":646.5},{"k":16,"x":-34,"y":652.4},{"k":16,"x":-33,"y":655.9},{"k":16,"x":-32,"y":655.7},{"k":16,"x":-31,"y":650.3},{"k":16,"x":-30,"y":640},{"k":16,"x":-29,"y":629.7},{"k":16,"x":-28,"y":624.3},{"k":16,"x":-27,"y":624.1},{"k":16,"x":-26,"y":627.6},{"k":16,"x":-25,"y":633.5},
{"k":16,"x":-24,"y":640},{"k":16,"x":-23,"y":646.5},{"k":16,"x":-22,"y":652.4},{"k":16,"x":-21,"y":655.9},{"k":16,"x":-20,"y":655.7},{"k":16,"x":-19,"y":650.3},{"k":16,"x":-18,"y":640},{"k":16,"x":-17,"y":629.7},{"k":16,"x":-16,"y":624.3},{"k":16,"x":-15,"y":624.1},{"k":16,"x":-14,"y":627.6},{"k":16,"x":-13,"y":633.5},
{"k":16,"x":-12,"y":640},{"k":16,"x":-11,"y":646.5},{"k":16,"x":-10,"y":652.4},{"k":16,"x":-9,"y":655.9},{"k":16,"x":-8,"y":655.7},{"k":16,"x":-7,"y":650.3},{"k":16,"x":-6,"y":640},{"k":16,"x":-5,"y":629.7},{"k":16,"x":-4,"y":624.3},{"k":16,"x":-3,"y":624.1},{"k":16,"x":-2,"y":627.6},{"k":16,"x":-1,"y":633.5},
{"k":16,"x":0,"y":640},{"k":16,"x":1,"y":646.5},{"k":16,"x":2,"y":652.4},{"k":16,"x":3,"y":655.9},{"k":16,"x":4,"y":655.7},{"k":16,"x":5,"y":650.3},{"k":16,"x":6,"y":640},{"k":16,"x":7,"y":629.7},{"k":16,"x":8,"y":624.3},{"k":16,"x":9,"y":624.1},{"k":16,"x":10,"y":627.6},{"k":16,"x":11,"y":633.5},
{"k":16,"x":12,"y":640},{"k":16,"x":13,"y":646.5},{"k":16,"x":14,"y":652.4},{"k":16,"x":15,"y":655.9},{"k":16,"x":16,"y":655.7},{"k":16,"x":17,"y":650.3},{"k":16,"x":18,"y":640},{"k":16,"x":19,"y":629.7},{"k":16,"x":20,"y":624.3},{"k":16,"x":21,"y":624.1},{"k":16,"x":22,"y":627.6},{"k":16,"x":23,"y":633.5},
{"k":16,"x":24,"y":640},{"k":16,"x":25,"y":646.5},{"k":16,"x":26,"y":652.4},{"k":16,"x":27,"y":655.9},{"k":16,"x":28,"y":655.7},{"k":16,"x":29,"y":650.3},{"k":16,"x":30,"y":640},{"k":16,"x":31,"y":629.7},{"k":16,"x":32,"y":624.3},{"k":16,"x":33,"y":624.1},{"k":16,"x":34,"y":627.6},{"k":16,"x":35,"y":633.5},{"k":16,"x":36,"y":640}
],
"amp": [
{"v":-0.97,"s":"A1","a":24.8},{"v":-0.9675,"s":"A1","a":19.1},{"v":-0.965,"s":"A1","a":16.0},{"v":-0.9625,"s":"A1","a":16.9},{"v":-0.96,"s":"A1","a":18.4},{"v":-0.9575,"s":"A1","a":18.2},{"v":-0.955,"s":"A1","a":16.7},{"v":-0.9525,"s":"A1","a":13.1},{"v":-0.95,"s":"A1","a":9.5},{"v":-0.9475,"s":"A1","a":5.7},{"v":-0.945,"s":"A1","a":4.2},{"v":-0.9425,"s":"A1","a":4.4},{"v":-0.94,"s":"A1","a":5.9},{"v":-0.9375,"s":"A1","a":7.7},{"v":-0.935,"s":"A1","a":10.5},{"v":-0.9325,"s":"A1","a":12.7},{"v":-0.93,"s":"A1","a":16.2},
{"v":-0.97,"s":"A5","a":0.3},{"v":-0.9675,"s":"A5","a":0.15},{"v":-0.965,"s":"A5","a":0.05},{"v":-0.9625,"s":"A5","a":0.05},{"v":-0.96,"s":"A5","a":0.05},{"v":-0.9575,"s":"A5","a":0.15},{"v":-0.955,"s":"A5","a":0.05},{"v":-0.9525,"s":"A5","a":0.05},{"v":-0.95,"s":"A5","a":0.05},{"v":-0.9475,"s":"A5","a":0.05},{"v":-0.945,"s":"A5","a":0.05},{"v":-0.9425,"s":"A5","a":0.05},{"v":-0.94,"s":"A5","a":0.05},{"v":-0.9375,"s":"A5","a":0.05},{"v":-0.935,"s":"A5","a":0.05},{"v":-0.9325,"s":"A5","a":0.05},{"v":-0.93,"s":"A5","a":0.05},
{"v":-0.97,"s":"A4","a":0.9},{"v":-0.9675,"s":"A4","a":0.6},{"v":-0.965,"s":"A4","a":0.1},{"v":-0.9625,"s":"A4","a":0.1},{"v":-0.96,"s":"A4","a":0.15},{"v":-0.9575,"s":"A4","a":0.4},{"v":-0.955,"s":"A4","a":0.3},{"v":-0.9525,"s":"A4","a":0.25},{"v":-0.95,"s":"A4","a":0.1},{"v":-0.9475,"s":"A4","a":0.05},{"v":-0.945,"s":"A4","a":0.05},{"v":-0.9425,"s":"A4","a":0.05},{"v":-0.94,"s":"A4","a":0.05},{"v":-0.9375,"s":"A4","a":0.05},{"v":-0.935,"s":"A4","a":0.05},{"v":-0.9325,"s":"A4","a":0.05},{"v":-0.93,"s":"A4","a":0.05},
{"v":-0.97,"s":"A2","a":3.3,"lo":3.1,"hi":3.5},{"v":-0.9675,"s":"A2","a":1.0,"lo":0.8,"hi":1.2},{"v":-0.965,"s":"A2","a":1.5,"lo":1.3,"hi":1.7},{"v":-0.9625,"s":"A2","a":1.7,"lo":1.5,"hi":1.9},{"v":-0.96,"s":"A2","a":1.5,"lo":1.3,"hi":1.7},{"v":-0.9575,"s":"A2","a":0.3,"lo":0.1,"hi":0.5},{"v":-0.955,"s":"A2","a":2.0,"lo":1.8,"hi":2.2},{"v":-0.9525,"s":"A2","a":3.5,"lo":3.3,"hi":3.7},{"v":-0.95,"s":"A2","a":3.6,"lo":3.4,"hi":3.8},{"v":-0.9475,"s":"A2","a":2.3,"lo":2.1,"hi":2.5},{"v":-0.945,"s":"A2","a":0.8,"lo":0.6,"hi":1.0},{"v":-0.9425,"s":"A2","a":0.1,"lo":0,"hi":0.3},{"v":-0.94,"s":"A2","a":0.15,"lo":0,"hi":0.35},{"v":-0.9375,"s":"A2","a":0.4,"lo":0.2,"hi":0.6},{"v":-0.935,"s":"A2","a":0.8,"lo":0.6,"hi":1.0},{"v":-0.9325,"s":"A2","a":1.3,"lo":1.1,"hi":1.5},{"v":-0.93,"s":"A2","a":2.0,"lo":1.8,"hi":2.2},
{"v":-0.97,"s":"A3","a":0.8,"lo":0.6,"hi":1.0},{"v":-0.9675,"s":"A3","a":0.5,"lo":0.3,"hi":0.7},{"v":-0.965,"s":"A3","a":0.05,"lo":0,"hi":0.25},{"v":-0.9625,"s":"A3","a":0.1,"lo":0,"hi":0.3},{"v":-0.96,"s":"A3","a":0.2,"lo":0,"hi":0.4},{"v":-0.9575,"s":"A3","a":0.9,"lo":0.7,"hi":1.1},{"v":-0.955,"s":"A3","a":1.4,"lo":1.2,"hi":1.6},{"v":-0.9525,"s":"A3","a":1.05,"lo":0.85,"hi":1.25},{"v":-0.95,"s":"A3","a":0.1,"lo":0,"hi":0.3},{"v":-0.9475,"s":"A3","a":0.25,"lo":0.05,"hi":0.45},{"v":-0.945,"s":"A3","a":0.15,"lo":0,"hi":0.35},{"v":-0.9425,"s":"A3","a":0.1,"lo":0,"hi":0.3},{"v":-0.94,"s":"A3","a":0.1,"lo":0,"hi":0.3},{"v":-0.9375,"s":"A3","a":0.1,"lo":0,"hi":0.3},{"v":-0.935,"s":"A3","a":0.1,"lo":0,"hi":0.3},{"v":-0.9325,"s":"A3","a":0.15,"lo":0,"hi":0.35},{"v":-0.93,"s":"A3","a":0.3,"lo":0.1,"hi":0.5}
],
"rel": [
{"v":-0.97,"s":"a2","a":0.137,"lo":0.131,"hi":0.143},{"v":-0.9675,"s":"a2","a":0.052,"lo":0.044,"hi":0.06},{"v":-0.965,"s":"a2","a":0.085,"lo":0.077,"hi":0.093},{"v":-0.9625,"s":"a2","a":0.1,"lo":0.093,"hi":0.106},{"v":-0.96,"s":"a2","a":0.084,"lo":0.077,"hi":0.09},{"v":-0.9575,"s":"a2","a":-0.01,"lo":-0.045,"hi":0.02},{"v":-0.955,"s":"a2","a":-0.117,"lo":-0.129,"hi":-0.109},{"v":-0.9525,"s":"a2","a":-0.274,"lo":-0.282,"hi":-0.266},{"v":-0.95,"s":"a2","a":-0.394,"lo":-0.4,"hi":-0.385},{"v":-0.9475,"s":"a2","a":-0.387,"lo":-0.4,"hi":-0.375},{"v":-0.945,"s":"a2","a":-0.194,"lo":-0.222,"hi":-0.181},{"v":-0.9425,"s":"a2","a":-0.028,"lo":-0.035,"hi":-0.021},{"v":-0.94,"s":"a2","a":0.04,"lo":0.031,"hi":0.053},{"v":-0.9375,"s":"a2","a":0.056,"lo":0.048,"hi":0.069},{"v":-0.935,"s":"a2","a":0.079,"lo":0.07,"hi":0.09},{"v":-0.9325,"s":"a2","a":0.1,"lo":0.092,"hi":0.108},{"v":-0.93,"s":"a2","a":0.125,"lo":0.118,"hi":0.132},
{"v":-0.97,"s":"a3","a":-0.026,"lo":-0.032,"hi":-0.02},{"v":-0.9675,"s":"a3","a":-0.05,"lo":-0.056,"hi":-0.04},{"v":-0.965,"s":"a3","a":0.006,"lo":-0.002,"hi":0.014},{"v":-0.9625,"s":"a3","a":0.016,"lo":0.008,"hi":0.024},{"v":-0.96,"s":"a3","a":-0.016,"lo":-0.028,"hi":0.012},{"v":-0.9575,"s":"a3","a":-0.054,"lo":-0.065,"hi":-0.048},{"v":-0.955,"s":"a3","a":-0.085,"lo":-0.093,"hi":-0.077},{"v":-0.9525,"s":"a3","a":-0.081,"lo":-0.089,"hi":-0.071},{"v":-0.95,"s":"a3","a":-0.01,"lo":-0.018,"hi":0.0},{"v":-0.9475,"s":"a3","a":0.06,"lo":-0.028,"hi":0.074},{"v":-0.945,"s":"a3","a":0.048,"lo":-0.036,"hi":0.065},{"v":-0.9425,"s":"a3","a":-0.027,"lo":-0.056,"hi":0.036},{"v":-0.94,"s":"a3","a":-0.015,"lo":-0.028,"hi":-0.004},{"v":-0.9375,"s":"a3","a":-0.013,"lo":-0.019,"hi":0.0},{"v":-0.935,"s":"a3","a":0.011,"lo":0.0,"hi":0.02},{"v":-0.9325,"s":"a3","a":0.01,"lo":0.0,"hi":0.02},{"v":-0.93,"s":"a3","a":0.018,"lo":0.01,"hi":0.026},
{"v":-0.97,"s":"a4","a":-0.036,"lo":-0.042,"hi":-0.03},{"v":-0.9675,"s":"a4","a":-0.031,"lo":-0.04,"hi":-0.024},{"v":-0.965,"s":"a4","a":-0.009,"lo":-0.015,"hi":-0.003},{"v":-0.9625,"s":"a4","a":-0.007,"lo":-0.013,"hi":-0.001},{"v":-0.96,"s":"a4","a":-0.011,"lo":-0.017,"hi":-0.005},{"v":-0.9575,"s":"a4","a":-0.025,"lo":-0.031,"hi":-0.019},{"v":-0.955,"s":"a4","a":-0.016,"lo":-0.024,"hi":-0.004},{"v":-0.9525,"s":"a4","a":0.019,"lo":0.008,"hi":0.028},{"v":-0.95,"s":"a4","a":0.028,"lo":0.01,"hi":0.04},{"v":-0.9475,"s":"a4","a":-0.016,"lo":-0.022,"hi":-0.01},{"v":-0.945,"s":"a4","a":-0.03,"lo":-0.036,"hi":-0.024},{"v":-0.9425,"s":"a4","a":-0.03,"lo":-0.036,"hi":-0.024},{"v":-0.94,"s":"a4","a":-0.024,"lo":-0.03,"hi":-0.018},{"v":-0.9375,"s":"a4","a":-0.014,"lo":-0.02,"hi":-0.008},{"v":-0.935,"s":"a4","a":-0.008,"lo":-0.014,"hi":-0.002},{"v":-0.9325,"s":"a4","a":-0.006,"lo":-0.012,"hi":0.0},{"v":-0.93,"s":"a4","a":-0.008,"lo":-0.014,"hi":-0.002}
]
},
"spacing": -1,
"hconcat": [
{
  "title": {"text": "a", "offset": -12, "dx": -77},
  "width": 221, "height": 604,
  "layer": [
    {
      "data": {"name": "traces"},
      "mark": {"type": "line", "color": "#231f20", "strokeWidth": 2.8, "strokeJoin": "round"},
      "encoding": {
        "x": {"field": "x", "type": "quantitative", "scale": {"domain": [-36, 36], "nice": false},
              "axis": {"values": [-12, -6, 0, 6, 12], "labelExpr": "datum.value == -12 ? '−2π\u00a0\u00a0\u00a0' : datum.value == 0 ? '0' : datum.value == 12 ? '2π' : ''", "grid": true, "gridColor": "#d9d9d9", "gridWidth": 1.5, "title": "φ (rad)", "labelPadding": 16, "titlePadding": 8}},
        "y": {"field": "y", "type": "quantitative", "scale": {"domain": [-50, 680], "nice": false},
              "axis": {"values": [0, 100, 200, 300, 400, 500, 600], "grid": true, "gridColor": "#d9d9d9", "gridWidth": 1.5, "title": "Iring (nA)", "labelPadding": 16, "titlePadding": 15}},
        "detail": {"field": "k", "type": "nominal"}
      }
    },
    {
      "data": {"values": [{"x": 36, "y": 665}, {"x": 36, "y": 11}]},
      "mark": {"type": "text", "text": "V", "fontStyle": "italic", "fontSize": 14, "align": "left", "baseline": "middle", "dx": 5, "color": "#231f20"},
      "encoding": {"x": {"field": "x", "type": "quantitative"}, "y": {"field": "y", "type": "quantitative"}}
    },
    {
      "data": {"values": [{"x": 36, "y": 665}, {"x": 36, "y": 11}]},
      "mark": {"type": "text", "text": "BG", "fontSize": 10, "align": "left", "baseline": "middle", "dx": 14, "dy": 4, "color": "#231f20"},
      "encoding": {"x": {"field": "x", "type": "quantitative"}, "y": {"field": "y", "type": "quantitative"}}
    },
    {
      "data": {"values": [{"x": 36, "y": 665}, {"x": 36, "y": 11}]},
      "mark": {"type": "text", "text": "=", "fontSize": 14, "align": "left", "baseline": "middle", "dx": 30, "color": "#231f20"},
      "encoding": {"x": {"field": "x", "type": "quantitative"}, "y": {"field": "y", "type": "quantitative"}}
    },
    {
      "data": {"values": [{"x": 36, "y": 641, "t": "−0.93 V"}, {"x": 36, "y": -13, "t": "−0.97 V"}]},
      "mark": {"type": "text", "fontSize": 14, "align": "left", "baseline": "middle", "dx": 4, "color": "#231f20"},
      "encoding": {"x": {"field": "x", "type": "quantitative"}, "y": {"field": "y", "type": "quantitative"}, "text": {"field": "t"}}
    }
  ]
},
{
  "vconcat": [
    {
      "title": {"text": "b", "offset": -19, "dx": -74},
      "width": 259, "height": 256,
      "layer": [
        {
          "data": {"name": "amp"},
          "mark": {"type": "line", "strokeWidth": 2.5},
          "encoding": {
            "x": {"field": "v", "type": "quantitative", "scale": {"domain": [-0.97, -0.93], "nice": false},
                  "axis": {"values": [-0.96, -0.94], "format": ".2f", "labelExpr": "datum.label + '\u00a0\u00a0\u00a0'", "title": "VBG (V)", "labelPadding": 18, "titlePadding": 10}},
            "y": {"field": "a", "type": "quantitative", "scale": {"domain": [0, 25], "nice": false},
                  "axis": {"values": [0, 5, 10, 15, 20, 25], "title": "|Aₙ| (nA)", "labelPadding": 11, "titlePadding": 14}},
            "color": {"field": "s", "type": "nominal", "scale": {"domain": ["A1", "A2", "A3", "A4", "A5"], "range": ["#0072BD", "#D95319", "#EDB120", "#7E2F8E", "#77AC30"]}, "legend": null}
          }
        },
        {
          "data": {"name": "amp"},
          "transform": [{"filter": "isValid(datum.lo)"}],
          "mark": {"type": "rule", "color": "#231f20", "strokeWidth": 1.2},
          "encoding": {
            "x": {"field": "v", "type": "quantitative"},
            "y": {"field": "lo", "type": "quantitative"},
            "y2": {"field": "hi"}
          }
        },
        {
          "data": {"values": [{"v": -0.9642, "a": 22.2, "s": "A1", "t": "|A₁|"}, {"v": -0.9575, "a": 5.6, "s": "A2", "t": "|A₂|"}]},
          "mark": {"type": "text", "fontSize": 18, "fontStyle": "italic", "baseline": "middle"},
          "encoding": {
            "x": {"field": "v", "type": "quantitative"},
            "y": {"field": "a", "type": "quantitative"},
            "color": {"field": "s", "type": "nominal", "legend": null},
            "text": {"field": "t"}
          }
        }
      ]
    },
    {
      "title": {"text": "c", "offset": -20, "dx": -67},
      "width": 258, "height": 250,
      "layer": [
        {
          "data": {"name": "rel"},
          "mark": {"type": "line", "strokeWidth": 2.5},
          "encoding": {
            "x": {"field": "v", "type": "quantitative", "scale": {"domain": [-0.97, -0.93], "nice": false},
                  "axis": {"values": [-0.96, -0.94], "format": ".2f", "labelExpr": "datum.label + '\u00a0\u00a0\u00a0'", "title": "VBG (V)", "labelPadding": 14, "titlePadding": 12}},
            "y": {"field": "a", "type": "quantitative", "scale": {"domain": [-0.4, 0.2], "nice": false},
                  "axis": {"values": [-0.4, -0.2, 0, 0.2], "format": ".1f", "title": "aₙ", "labelPadding": 13, "titlePadding": 4}},
            "color": {"field": "s", "type": "nominal", "scale": {"domain": ["a2", "a3", "a4"], "range": ["#D95319", "#EDB120", "#7E2F8E"]}, "legend": null}
          }
        },
        {
          "data": {"name": "rel"},
          "mark": {"type": "rule", "color": "#231f20", "strokeWidth": 1.3},
          "encoding": {
            "x": {"field": "v", "type": "quantitative"},
            "y": {"field": "lo", "type": "quantitative"},
            "y2": {"field": "hi"}
          }
        },
        {
          "data": {"values": [{"v": -0.9399, "a": 0.132, "s": "a2", "t": "a₂"}, {"v": -0.9548, "a": 0.077, "s": "a4", "t": "a₄"}, {"v": -0.9509, "a": -0.127, "s": "a3", "t": "a₃"}]},
          "mark": {"type": "text", "fontSize": 18, "fontStyle": "italic", "baseline": "middle"},
          "encoding": {
            "x": {"field": "v", "type": "quantitative"},
            "y": {"field": "a", "type": "quantitative"},
            "color": {"field": "s", "type": "nominal", "legend": null},
            "text": {"field": "t"}
          }
        }
      ]
    }
  ],
  "spacing": 98,
  "bounds": "flush",
  "resolve": {"scale": {"color": "independent"}}
}
]
}
